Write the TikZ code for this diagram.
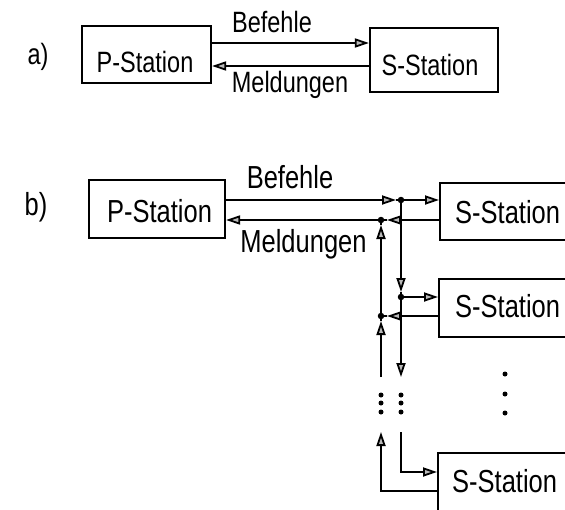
\documentclass[tikz,border=0pt]{standalone}
\usepackage{fontspec}
\setmainfont{Liberation Sans}
\usetikzlibrary{arrows.meta}
\newcommand\vtxt[1]{\scalebox{1}[1.25]{#1}}
\begin{document}
\begin{tikzpicture}[x=1pt,y=-1pt,
  fa/.style={font=\fontsize{23.5}{28}\selectfont, inner sep=0pt},
  fb/.style={font=\fontsize{25.5}{30}\selectfont, inner sep=0pt},
  stbox/.style={draw, line width=2.2pt, inner sep=0pt, rectangle},
  ln/.style={line width=2.2pt},
  arr/.style={ln, -{Triangle[length=14pt,width=9pt,fill=gray!55,line width=1.8pt]}},
  jdot/.style={fill, circle, inner sep=0pt, minimum size=6.5pt},
  edot/.style={fill, circle, inner sep=0pt, minimum size=5pt}
]
\useasboundingbox (0,0) rectangle (565,509);
\clip (0,0) rectangle (565,509);

% ---------- part a ----------
\node[fa, anchor=base] (la) at (38,64) {\vtxt{a)}};
\node[stbox, minimum width=129pt, minimum height=57pt] (Pa) at (146.5,54.5) {};
\node[fa, anchor=base] (tPa) at (145,72) {\vtxt{P-Station}};
\node[stbox, minimum width=128pt, minimum height=64pt] (Sa) at (434,60) {};
\node[fa, anchor=base] (tSa) at (430,75) {\vtxt{S-Station}};
\coordinate (aB) at (0,43);
\coordinate (aM) at (0,66);
\draw[arr] (Pa.east |- aB) -- (Sa.west |- aB);
\draw[arr] (Sa.west |- aM) -- (Pa.east |- aM);
\node[fa, anchor=base] (lBa) at (272,32) {\vtxt{Befehle}};
\node[fa, anchor=base] (lMa) at (290,92) {\vtxt{Meldungen}};

% ---------- part b ----------
\node[fb, anchor=base] (lb) at (36,215) {\vtxt{b)}};
\node[stbox, minimum width=136pt, minimum height=58pt] (Pb) at (157,209) {};
\node[fb, anchor=base] (tPb) at (159.5,222) {\vtxt{P-Station}};
\node[fb, anchor=base] (lBb) at (290,188) {\vtxt{Befehle}};
\node[fb, anchor=base] (lMb) at (303.5,252) {\vtxt{Meldungen}};

\node[stbox, anchor=north west, minimum width=250pt, minimum height=57pt] (S1) at (439,182) {};
\node[fb, anchor=base west] (tS1) at (455,223) {\vtxt{S-Station}};
\node[stbox, anchor=north west, minimum width=250pt, minimum height=58pt] (S2) at (438,278) {};
\node[fb, anchor=base west] (tS2) at (455,317) {\vtxt{S-Station}};
\node[stbox, anchor=north west, minimum width=250pt, minimum height=80pt] (S3) at (437,452) {};
\node[fb, anchor=base west] (tS3) at (452,492) {\vtxt{S-Station}};

% junctions
\coordinate (jB1) at (401,200);
\coordinate (jM1) at (381,220);
\coordinate (jB2) at (401,297);
\coordinate (jM2) at (381,316);
\coordinate (aB1) at (396,200);
\coordinate (aM1) at (387,220);
\coordinate (aU1) at (381,225);
\coordinate (aD2) at (401,292);
\coordinate (aM2) at (387,316);
\coordinate (aU2) at (381,321);
\coordinate (bBend) at (401,377);
\coordinate (bMend) at (381,377);
\coordinate (cBtop) at (401,432);
\coordinate (cBcor) at (401,472);
\coordinate (cMtip) at (381,432);
\coordinate (cMcor) at (381,491);

% Befehle bus
\draw[arr] (Pb.east |- jB1) -- (aB1);
\draw[ln] (aB1) -- (jB1);
\draw[arr] (jB1) -- (S1.west |- jB1);
\draw[arr] (jB1) -- (aD2);
\draw[ln] (aD2) -- (jB2);
\draw[arr] (jB2) -- (S2.west |- jB2);
\draw[arr] (jB2) -- (bBend);
\draw[arr] (cBtop) -- (cBcor) -- (S3.west |- cBcor);

% Meldungen bus
\draw[arr] (S1.west |- jM1) -- (aM1);
\draw[ln] (aM1) -- (jM1);
\draw[arr] (jM1) -- (Pb.east |- jM1);
\draw[arr] (jM2) -- (aU1);
\draw[ln] (aU1) -- (jM1);
\draw[arr] (S2.west |- jM2) -- (aM2);
\draw[ln] (aM2) -- (jM2);
\draw[arr] (bMend) -- (aU2);
\draw[ln] (aU2) -- (jM2);
\draw[arr] (S3.west |- cMcor) -- (cMcor) -- (cMtip);

% junction dots
\foreach \j in {jB1,jM1,jB2,jM2} \node[jdot] at (\j) {};

% ellipsis dots
\foreach \yy in {395,403,412} {
  \node[edot] at (381,\yy) {};
  \node[edot] at (401,\yy) {};
}
\foreach \yy in {374,394,413} \node[edot] at (505,\yy) {};
\end{tikzpicture}
\end{document}
